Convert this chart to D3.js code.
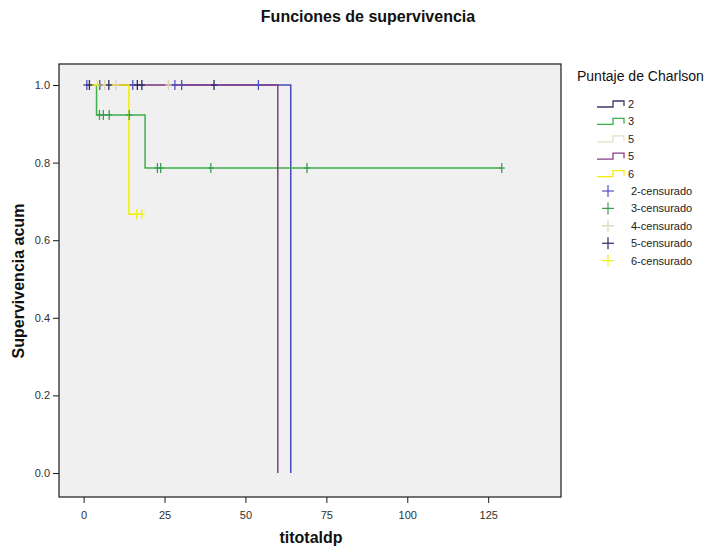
<!DOCTYPE html>
<html>
<head>
<meta charset="utf-8">
<script src="https://cdn.jsdelivr.net/npm/d3@7"></script>
<style>
  body { margin: 0; background: #fff; }
</style>
</head>
<body>
<div id="chart"></div>
<script>
// data
const groupNames = ["2", "3", "5", "5", "6"];
const censorNames = ["2-censurado", "3-censurado", "4-censurado", "5-censurado", "6-censurado"];
const xTicks = [0, 25, 50, 75, 100, 125];
const yTicks = [0.0, 0.2, 0.4, 0.6, 0.8, 1.0];

// step points: time, cumulative survival
const times2 = [0, 64];
const surv2 = [1, 0];
const times3 = [0, 4, 19, 129.2];
const surv3 = [1, 0.923, 0.786, 0.786];
const times4 = [0, 30];
const surv4 = [1, 1];
const times5 = [0, 60];
const surv5 = [1, 0];
const times6 = [0, 14, 18];
const surv6 = [1, 0.667, 0.667];

// censored times
const cens2 = [1, 5, 15.2, 28.2, 30.3, 54];
const cens3 = [4.9, 6.1, 7.9, 14.1, 22.8, 23.8, 39.3, 69, 129.2];
const cens4 = [6.5, 10, 26.2];
const cens5 = [1.8, 7.8, 16.6, 18, 40.3];
const cens6 = [4.3, 16.4, 18];

const lineColors = ["#4848b8", "#3cb04c", "#e4e0c4", "#8a3c86", "#f0f000"];
const censColors = ["#5050c8", "#3c9c54", "#d8d4b4", "#2c2c6c", "#f0f020"];

const width = 728, height = 550;
const svg = d3.select("#chart").append("svg")
    .attr("width", width)
    .attr("height", height)
    .style("font-family", "'Liberation Sans', Arial, sans-serif");

svg.append("rect")
    .attr("width", width)
    .attr("height", height)
    .attr("fill", "#ffffff");

const x = d3.scaleLinear().domain([0, 125]).range([83.6, 488.2]);
const y = d3.scaleLinear().domain([0, 1]).range([473, 85]);

// plot frame
const frameL = 59, frameR = 561, frameT = 64, frameB = 497;
svg.append("rect")
    .attr("x", frameL)
    .attr("y", frameT)
    .attr("width", frameR - frameL)
    .attr("height", frameB - frameT)
    .attr("fill", "#f0f0f0")
    .attr("stroke", "#1a1a1a")
    .attr("stroke-width", 1.2);

// axes
const xAxis = svg.append("g")
    .attr("transform", `translate(0,${frameB})`)
    .call(d3.axisBottom(x).tickValues(xTicks).tickSize(6).tickSizeOuter(0).tickFormat(d3.format("d")));
xAxis.select(".domain").remove();

const yAxis = svg.append("g")
    .attr("transform", `translate(${frameL},0)`)
    .call(d3.axisLeft(y).tickValues(yTicks).tickSize(6).tickSizeOuter(0).tickFormat(d3.format(".1f")));
yAxis.select(".domain").remove();

svg.selectAll(".tick line").attr("stroke", "#1a1a1a");
svg.selectAll(".tick text")
    .attr("fill", "#303030")
    .attr("font-size", "11px")
    .style("font-family", "'Liberation Sans', Arial, sans-serif");
xAxis.selectAll(".tick text").attr("dy", "1.2em");

// titles
svg.append("text")
    .attr("x", 368)
    .attr("y", 22)
    .attr("text-anchor", "middle")
    .attr("font-size", "16px")
    .attr("font-weight", "bold")
    .attr("fill", "#111")
    .text("Funciones de supervivencia");

svg.append("text")
    .attr("x", 311)
    .attr("y", 543)
    .attr("text-anchor", "middle")
    .attr("font-size", "16px")
    .attr("font-weight", "bold")
    .attr("fill", "#111")
    .text("titotaldp");

svg.append("text")
    .attr("transform", "translate(24,281) rotate(-90)")
    .attr("text-anchor", "middle")
    .attr("font-size", "16px")
    .attr("font-weight", "bold")
    .attr("fill", "#111")
    .text("Supervivencia acum");

// survival curves
const groups = [
    { t: times2, s: surv2, c: cens2 },
    { t: times3, s: surv3, c: cens3 },
    { t: times4, s: surv4, c: cens4 },
    { t: times5, s: surv5, c: cens5 },
    { t: times6, s: surv6, c: cens6 }
];

const step = d3.line()
    .x(d => x(d[0]))
    .y(d => y(d[1]))
    .curve(d3.curveStepAfter);

groups.forEach(function (g, i) {
    svg.append("path")
        .attr("d", step(g.t.map((t, k) => [t, g.s[k]])))
        .attr("fill", "none")
        .attr("stroke", lineColors[i])
        .attr("stroke-width", 1.5);
});

// survival value at a given time (read from the step data)
function survAt(g, t) {
    let s = g.s[0];
    for (let k = 0; k < g.t.length; k++) {
        if (g.t[k] <= t) s = g.s[k];
    }
    return s;
}

groups.forEach(function (g, i) {
    g.c.forEach(function (t) {
        const cx = x(t), cy = y(survAt(g, t));
        svg.append("line")
            .attr("x1", cx).attr("x2", cx)
            .attr("y1", cy - 5).attr("y2", cy + 5)
            .attr("stroke", censColors[i])
            .attr("stroke-width", 1.3);
        svg.append("line")
            .attr("x1", cx - 3).attr("x2", cx + 3)
            .attr("y1", cy).attr("y2", cy)
            .attr("stroke", censColors[i])
            .attr("stroke-width", 1.3);
    });
});

// legend
svg.append("text")
    .attr("x", 577)
    .attr("y", 81)
    .attr("font-size", "14px")
    .attr("fill", "#111")
    .text("Puntaje de Charlson");

const legY0 = 104, legStep = 17.4;

groupNames.forEach(function (name, i) {
    const ly = legY0 + i * legStep;
    svg.append("path")
        .attr("d", `M597,${ly + 3}H613V${ly - 3}H624V${ly + 2}`)
        .attr("fill", "none")
        .attr("stroke", lineColors[i] === "#4848b8" ? "#3a3a6a" : lineColors[i])
        .attr("stroke-width", 1.3);
    svg.append("text")
        .attr("x", 628)
        .attr("y", ly + 4)
        .attr("font-size", "11px")
        .attr("fill", "#222")
        .text(name);
});

censorNames.forEach(function (name, i) {
    const ly = legY0 + (i + 5) * legStep;
    svg.append("line")
        .attr("x1", 608).attr("x2", 608)
        .attr("y1", ly - 6).attr("y2", ly + 6)
        .attr("stroke", censColors[i])
        .attr("stroke-width", 1.2);
    svg.append("line")
        .attr("x1", 602).attr("x2", 614)
        .attr("y1", ly).attr("y2", ly)
        .attr("stroke", censColors[i])
        .attr("stroke-width", 1.2);
    svg.append("text")
        .attr("x", 631)
        .attr("y", ly + 4)
        .attr("font-size", "11px")
        .attr("fill", "#222")
        .text(name);
});
</script>
</body>
</html>
